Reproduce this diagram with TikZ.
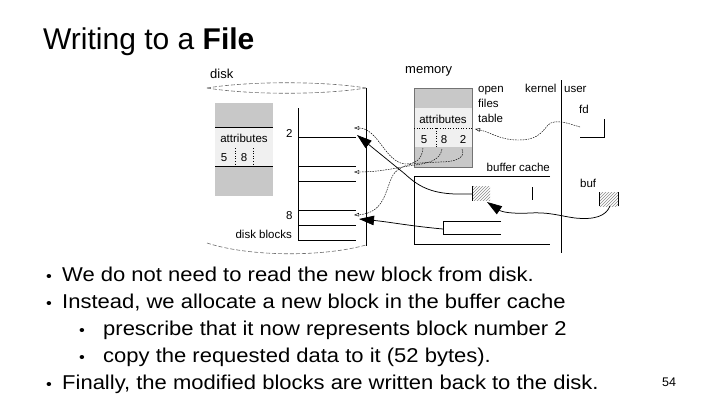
\documentclass[tikz,border=0pt]{standalone}
\usepackage{fontspec}
\setmainfont{Liberation Sans}
\newfontfamily\bodyfont[FakeStretch=1.1]{Liberation Sans}
\usetikzlibrary{patterns,arrows.meta}
\definecolor{gdark}{RGB}{200,200,200}
\definecolor{glight}{RGB}{240,240,240}
\definecolor{dashgray}{RGB}{110,110,110}
\begin{document}
\begin{tikzpicture}[x=1pt,y=-1pt,
  lbl/.style={inner sep=0pt, anchor=base west, font=\fontsize{11.5}{13}\selectfont},
  lblc/.style={inner sep=0pt, anchor=base, font=\fontsize{11.5}{13}\selectfont},
  biglbl/.style={inner sep=0pt, anchor=base west, font=\fontsize{13}{15}\selectfont},
  bul/.style={inner sep=0pt, anchor=base west, font=\bodyfont\fontsize{20}{24}\selectfont},
  dot/.style={inner sep=0pt, anchor=base west, font=\bodyfont\fontsize{15}{18}\selectfont},
  ln/.style={line width=0.7pt},
  ptr/.style={line width=0.45pt, dash pattern=on 1.6pt off 1pt, -{Triangle[open,length=5pt,width=3.5pt]}},
  bigarrow/.style={line width=0.75pt, -{Triangle[length=15pt,width=9.5pt]}},
  diskedge/.style={line width=0.6pt, dashgray, dash pattern=on 4pt off 2pt},
  hatch/.style={pattern=north east lines, pattern color=black!45}
]
\useasboundingbox (0,0) rectangle (720,405);
\fill[white] (0,0) rectangle (720,405);

% title
\node[inner sep=0pt, anchor=base west, font=\fontsize{30}{36}\selectfont] (title) at (43,49) {Writing to a \textbf{File}};

% ---------- disk ----------
\node[biglbl] (disklbl) at (210,78) {disk};
\draw[diskedge] (207,88) .. controls (250,81) and (323,81) .. (366,88);
\draw[diskedge] (207,88) .. controls (250,95) and (323,95) .. (366,88);
\draw[diskedge] (207,243) .. controls (250,257) and (323,257) .. (366,245);
\draw[ln] (366,88) -- (366,246);

% inode on disk
\fill[gdark] (215,103) rectangle (273,196);
\fill[glight] (215,127) rectangle (273,166);
\draw[line width=0.6pt] (215,127) -- (273,127) (215,166) -- (273,166);
\node[lblc] (dattr) at (244,142) {attributes};
\node[lblc] (d5lbl) at (224,161) {5};
\node[lblc] (d8lbl) at (244,161) {8};
\draw[dotted, line width=0.6pt] (235,148) -- (235,165) (253,148) -- (253,165);

% disk blocks
\draw[ln] (298,108) -- (298,240);
\foreach \yy in {137,166,181,210,225,240} \draw[ln] (298,\yy) -- (356,\yy);
\node[lbl] (blk2lbl) at (286,137) {2};
\node[lbl] (blk8lbl) at (286,219) {8};
\node[inner sep=0pt, anchor=base east, font=\fontsize{11.5}{13}\selectfont] (dblbl) at (292,238) {disk blocks};

% ---------- memory ----------
\node[biglbl] (memlbl) at (405,73) {memory};
\fill[gdark] (414,88) rectangle (472,167);
\fill[glight] (414,108) rectangle (472,147);
\draw[line width=0.4pt, black!55] (414,88) rectangle (472,167);
\draw[dotted, line width=0.6pt] (414,128) -- (472,128) (436,128) -- (436,147);
\node[lblc] (mattr) at (443,123) {attributes};
\node[lblc] (m5) at (424,143) {5};
\node[lblc] (m8) at (444,143) {8};
\node[lblc] (m2) at (463,143) {2};
\node[lbl] (open) at (478,92) {open};
\node[lbl] (files) at (478,107) {files};
\node[lbl] (table) at (478,122) {table};
\node[lbl] (kernel) at (525,92) {kernel};
\node[lbl] (user) at (564,92) {user};
\draw[ln] (561,80) -- (561,253);

% fd
\node[lbl] (fd) at (579,113) {fd};
\draw[ln] (604,119) -- (604,137) -- (580,137);

% buffer cache
\node[inner sep=0pt, anchor=base east, font=\fontsize{11.5}{13}\selectfont] (bclbl) at (550,171) {buffer cache};
\draw[ln] (550,176) -- (414,176) -- (414,244) -- (550,244);
\path[hatch] (472,186) rectangle (490,200);
\draw[ln] (472,186) -- (472,201);
\draw[ln] (532,187) -- (532,200);
\draw[ln] (501,221) -- (443,221) -- (443,234) -- (501,234);

% buf
\node[lbl] (buflbl) at (580,187) {buf};
\path[hatch] (599,192) rectangle (618,206);
\draw[ln] (599,192) -- (599,206) (618,192) -- (618,206);

% ---------- connectors ----------
\coordinate (p5) at (423,148);
\coordinate (p8) at (442,149);
\coordinate (p2) at (462,149);
\coordinate (d5) at (354,128);
\coordinate (d8) at (354,172);
\coordinate (d2) at (354,215);
\coordinate (fdc) at (580,127);
\coordinate (tbl) at (475,129);
\coordinate (hb) at (472,194);
\coordinate (blk2) at (357,135);
\coordinate (br) at (443,229);
\coordinate (blk8) at (359,219);
\coordinate (bufb) at (610,206);
\coordinate (hbc) at (487,202);

\draw[ptr] (p5) .. controls (422,160) and (415,164) .. (405,164) .. controls (385,162) and (378,128) .. (d5);
\draw[ptr] (p8) .. controls (440,160) and (430,163) .. (415,165) .. controls (395,168) and (380,172) .. (d8);
\draw[ptr] (p2) .. controls (466,158) and (455,162) .. (440,162) .. controls (420,163) and (402,162) .. (393,175) .. controls (385,190) and (385,213) .. (d2);
\draw[ptr] (fdc) .. controls (570,124) and (555,118) .. (548,125) .. controls (540,135) and (535,140) .. (518,140) .. controls (500,140) and (490,132) .. (tbl);

\draw[bigarrow] (hb) -- (455,194) .. controls (430,193) and (418,186) .. (405,174) -- (blk2);
\draw[bigarrow] (br) .. controls (410,226) and (390,222) .. (blk8);
\draw[bigarrow] (bufb) .. controls (606,216) and (595,220) .. (575,218) .. controls (560,216) and (550,212) .. (530,213) .. controls (512,214) and (502,212) .. (hbc);

% ---------- bullets ----------
\node[dot] (b1) at (46,281) {•};
\node[bul] (t1) at (62,281) {We do not need to read the new block from disk.};
\node[dot] (b2) at (46,308) {•};
\node[bul] (t2) at (62,308) {Instead, we allocate a new block in the buffer cache};
\node[dot] (b3) at (79,335) {•};
\node[bul] (t3) at (103,335) {prescribe that it now represents block number 2};
\node[dot] (b4) at (79,362) {•};
\node[bul] (t4) at (103,362) {copy the requested data to it (52 bytes).};
\node[dot] (b5) at (46,389) {•};
\node[bul] (t5) at (62,389) {Finally, the modified blocks are written back to the disk.};
\node[inner sep=0pt, anchor=base west, font=\fontsize{12.5}{14}\selectfont] (pg) at (662,386) {54};
\end{tikzpicture}
\end{document}
